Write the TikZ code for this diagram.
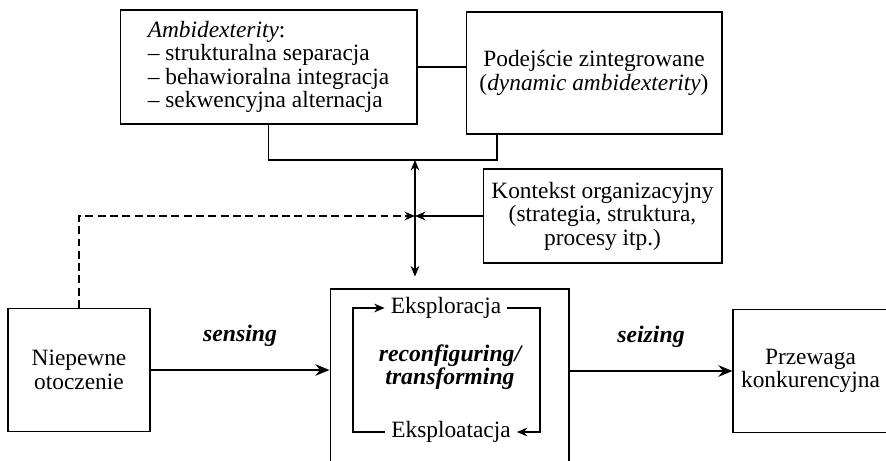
\documentclass[tikz,border=0pt]{standalone}
\usepackage{fontspec}
\setmainfont{Liberation Serif}
\usetikzlibrary{arrows.meta, calc}
\tikzset{every node/.append style = {font=\fontsize{13.3}{13.4}\selectfont}}
\tikzset{box/.style = {draw, line width=0.6pt, inner sep=2pt, align=center}}
\tikzset{conn/.style = {line width=0.6pt, -{Stealth[length=6pt, width=5pt]}}}
\tikzset{dblconn/.style = {line width=0.6pt, {Stealth[length=6pt, width=5pt]}-{Stealth[length=6pt, width=5pt]}}}
\tikzset{bigconn/.style = {line width=1.5pt, -{Stealth[length=8pt, width=6.5pt]}}}
\tikzset{lbl/.style = {font=\fontsize{13.5}{13.4}\selectfont\bfseries\itshape}}

\begin{document}
\begin{tikzpicture}[x=0.02cm, y=-0.02cm]
\useasboundingbox (0,0) rectangle (886,460);
\node[box, align=left, minimum width=5.94cm, minimum height=2.28cm] (amb) at (268.5,67) {\textit{Ambidexterity}:\\-- strukturalna separacja\\-- behawioralna integracja\\-- sekwencyjna alternacja};
\node[box, minimum width=5.12cm, minimum height=2.44cm] (zint) at (594,73) {Podejście zintegrowane\\(\textit{dynamic ambidexterity})};
\node[box, minimum width=4.78cm, minimum height=1.88cm] (kont) at (602.5,216) {Kontekst organizacyjny\\(strategia, struktura,\\procesy itp.)};
\node[box, minimum width=2.84cm, minimum height=2.46cm] (niep) at (79,370) {Niepewne\\otoczenie};
\node[box, minimum width=4.78cm, minimum height=3.7cm] (rec) at (449.5,381.5) {};
\node[box, minimum width=3.1cm, minimum height=2.46cm] (przew) at (810.5,371) {Przewaga\\konkurencyjna};
\node (eksplor) at (446,308) {Eksploracja};
\node (eksploat) at (451,432) {Eksploatacja};
\node[lbl, align=center] (reconf) at (450,367) {reconfiguring/\\transforming};
\coordinate (top) at (415,160);
\coordinate (hub) at (415,216);
\coordinate (zfoot) at (497,134);
\coordinate (loopl) at (353,308);
\coordinate (loopr) at (540,432);
\draw[line width=0.6pt] (amb.east) -- (amb.east -| zint.west);
\draw[line width=0.6pt] (amb.south) |- (top) -| (zfoot);
\draw[dblconn, shorten >=0.24cm] (top) -- (top |- rec.north);
\draw[conn] (kont.west) -- (hub);
\draw[conn, dash pattern=on 4.5pt off 2.5pt] (niep.north) |- (hub);
\draw[bigconn] (niep.east) -- (niep.east -| rec.west) node[lbl, midway, above=9pt] {sensing};
\draw[bigconn] (rec.east |- przew.west) -- (przew.west) node[lbl, midway, above=9pt] {seizing};
\draw[conn] (eksploat.west) -| (loopl) -- (eksplor.west);
\draw[conn] (eksplor.east) -| (loopr) -- (eksploat.east);
\end{tikzpicture}
\end{document}
